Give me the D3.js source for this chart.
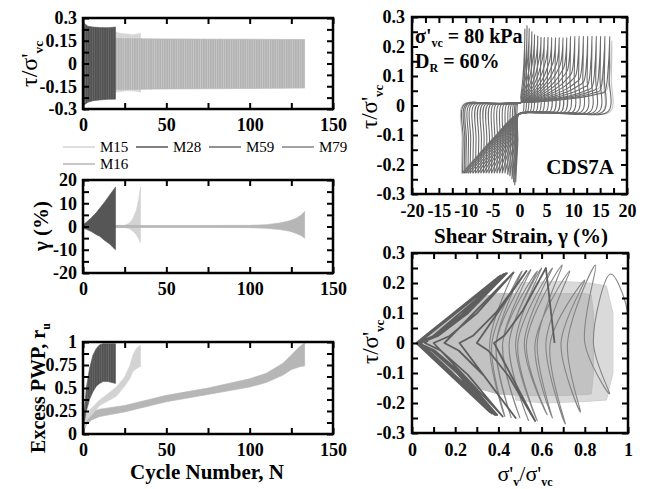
<!DOCTYPE html>
<html><head><meta charset="utf-8">
<script src="https://cdn.jsdelivr.net/npm/d3@7"></script>
<style>
body{margin:0;background:#fff;}
svg{display:block;}
</style></head><body>
<svg id="c" width="655" height="489"></svg>
<script>
// ================= DATA =================
const legendNames = ["M15","M28","M59","M79","M16"];

// Panel A: tau/sigma'vc envelope vs cycle number
const tauN_M15  = [0, 19, 22, 26, 30, 33, 34.5];
const tauUp_M15 = [0.22, 0.21, 0.2, 0.195, 0.19, 0.195, 0.2];
const tauLo_M15 = [-0.2, -0.19, -0.185, -0.18, -0.18, -0.185, -0.19];
const tauN_M16  = [0, 20, 50, 100, 133];
const tauUp_M16 = [0.168, 0.165, 0.162, 0.16, 0.158];
const tauLo_M16 = [-0.175, -0.172, -0.168, -0.165, -0.162];
const tauN_M28  = [0, 1, 3, 6, 10, 15, 19.5];
const tauUp_M28 = [0.27, 0.262, 0.245, 0.24, 0.237, 0.236, 0.24];
const tauLo_M28 = [-0.28, -0.27, -0.255, -0.245, -0.24, -0.236, -0.235];

// Panel B: shear strain envelope vs cycle number
const gamN_M15  = [0, 19, 25, 28, 30, 32, 33.5, 34.5];
const gamUp_M15 = [0.4, 0.3, 0.5, 1.5, 3.5, 7, 12, 17];
const gamLo_M15 = [-0.4, -0.3, -0.4, -1, -2, -3.5, -5.5, -7];
const gamN_M16  = [0, 50, 100, 110, 118, 124, 128, 131, 133];
const gamUp_M16 = [0.5, 0.4, 0.5, 0.8, 1.5, 2.5, 3.5, 5, 6.5];
const gamLo_M16 = [-0.5, -0.4, -0.5, -0.8, -1.3, -2, -3, -4, -5];
const gamN_M28  = [0, 2, 5, 8, 10, 13, 16, 18, 19.5];
const gamUp_M28 = [0.8, 1.8, 3.8, 6, 7.8, 10.5, 13.5, 15.5, 17];
const gamLo_M28 = [-0.8, -1.2, -2.2, -3.5, -4.2, -6, -7.5, -9, -10];

// Panel C: excess pore pressure ratio envelope vs cycle number
const ruN_M16  = [0, 2, 5, 10, 25, 50, 75, 100, 110, 120, 125, 130, 133];
const ruUp_M16 = [0.08, 0.2, 0.24, 0.27, 0.31, 0.42, 0.5, 0.6, 0.66, 0.77, 0.86, 0.95, 0.99];
const ruLo_M16 = [0, 0.1, 0.15, 0.19, 0.24, 0.35, 0.43, 0.51, 0.56, 0.64, 0.7, 0.73, 0.74];
const ruN_M15  = [0, 2, 5, 10, 15, 20, 25, 28, 30, 32, 34, 34.5];
const ruUp_M15 = [0.1, 0.22, 0.28, 0.37, 0.44, 0.51, 0.62, 0.74, 0.86, 0.93, 0.96, 0.96];
const ruLo_M15 = [0, 0.15, 0.2, 0.31, 0.36, 0.41, 0.52, 0.6, 0.68, 0.71, 0.73, 0.73];
const ruN_M28  = [0, 1, 2, 4, 6, 8, 10, 12, 15, 19.5];
const ruUp_M28 = [0.05, 0.3, 0.5, 0.72, 0.86, 0.93, 0.97, 0.98, 0.98, 0.98];
const ruLo_M28 = [0, 0.15, 0.25, 0.38, 0.46, 0.52, 0.55, 0.57, 0.57, 0.55];

// Panel D: stress-strain loop peaks (one entry per cycle)
const loopPosStrain = [1.0,1.4,1.8,2.3,2.8,3.4,4.0,4.6,5.3,6.0,6.7,7.4,8.1,8.8,9.5,10.3,11.1,11.9,12.7,13.5,14.3,15.1,15.9,16.8];
const loopNegStrain = [-0.7,-0.9,-1.1,-1.4,-1.8,-2.2,-2.7,-3.2,-3.7,-4.2,-4.7,-5.2,-5.7,-6.2,-6.7,-7.2,-7.7,-8.2,-8.7,-9.2,-9.6,-10.0,-10.3,-10.6];
const loopPosTau    = [0.26,0.27,0.26,0.25,0.24,0.235,0.23,0.23,0.23,0.23,0.23,0.23,0.23,0.23,0.235,0.235,0.235,0.235,0.235,0.235,0.235,0.235,0.235,0.235];
const loopNegTau    = [-0.26,-0.27,-0.26,-0.25,-0.24,-0.235,-0.23,-0.23,-0.23,-0.23,-0.23,-0.23,-0.23,-0.23,-0.23,-0.23,-0.23,-0.23,-0.23,-0.23,-0.23,-0.23,-0.23,-0.23];
const loopPosKnee   = [0.2,0.2,0.2,0.19,0.18,0.175,0.17,0.165,0.16,0.155,0.15,0.145,0.14,0.13,0.12,0.11,0.1,0.09,0.08,0.07,0.06,0.055,0.05,0.045];
const lightLoopPosStrain = [15.8, 17.2];
const lightLoopNegStrain = [-10.2, -10.8];
const lightLoopPosTau    = [0.19, 0.22];
const lightLoopNegTau    = [-0.22, -0.23];
const lightLoopPosKnee   = [0.06, 0.05];

// Panel E: stress paths
const bandM15Sig = [0.48,0.6,0.7,0.82,0.9,0.93,0.93,0.9,0.8,0.6,0.48];
const bandM15Tau = [0.2,0.203,0.205,0.2,0.19,0.1,-0.1,-0.19,-0.195,-0.2,-0.19];
const bandM16Sig = [0.05,0.12,0.2,0.3,0.4,0.5,0.6,0.7,0.8,0.83,0.84,0.84,0.83,0.8,0.7,0.6,0.5,0.4,0.3,0.2,0.12,0.05];
const bandM16Tau = [0.02,0.06,0.1,0.15,0.165,0.165,0.165,0.165,0.165,0.16,0.1,-0.1,-0.17,-0.172,-0.175,-0.175,-0.175,-0.17,-0.15,-0.1,-0.06,-0.02];
// half-cycle peaks of the medium stress path (alternating top / bottom) and the
// effective-stress ratio where each half-cycle crosses tau = 0
const pathM79PeakSig = [0.92,0.915,0.85,0.78,0.80,0.71,0.73,0.65,0.695,0.626,0.65,0.58,0.60,0.54,0.58,0.50,0.55,0.46,0.51,0.43,0.47];
const pathM79PeakTau = [0.23,-0.17,0.26,-0.23,0.21,-0.27,0.24,-0.25,0.26,-0.24,0.25,-0.26,0.25,-0.26,0.24,-0.25,0.245,-0.25,0.24,-0.245,0.235];
const pathM79ZeroSig = [0.84,0.80,0.72,0.69,0.64,0.62,0.57,0.58,0.53,0.52,0.49,0.48,0.45,0.45,0.42,0.42,0.39,0.39,0.37,0.36];
const bflyTopSig = [0.62,0.53,0.47,0.44,0.435,0.43,0.425,0.42,0.41,0.40];
const bflyTopTau = [0.25,0.24,0.235,0.233,0.233,0.23,0.23,0.228,0.225,0.22];
const bflyBotSig = [0.57,0.48,0.42,0.395,0.39,0.385,0.38,0.375,0.37,0.36];
const bflyBotTau = [-0.26,-0.25,-0.245,-0.24,-0.24,-0.24,-0.238,-0.235,-0.235,-0.23];
const bflyZeroAfterTop = [0.38,0.22,0.1,0.04,0.03,0.02,0.02,0.02,0.02,0.02];
const bflyZeroAfterBot = [0.3,0.15,0.06,0.03,0.02,0.02,0.02,0.02,0.02,0.02];
const bflyStartSig = 0.66;

// tick values / labels
const nTicks = [0,25,50,75,100,125,150], nLabels = [0,50,100,150];
const tauTicksA = [-0.3,-0.225,-0.15,-0.075,0,0.075,0.15,0.225,0.3], tauLabelsA = [-0.3,-0.15,0,0.15,0.3];
const gamTicks = [-20,-15,-10,-5,0,5,10,15,20], gamLabels = [-20,-10,0,10,20];
const ruTicks = [0,0.125,0.25,0.375,0.5,0.625,0.75,0.875,1], ruLabels = [0,0.25,0.5,0.75,1];
const strainTicks = [-20,-17.5,-15,-12.5,-10,-7.5,-5,-2.5,0,2.5,5,7.5,10,12.5,15,17.5,20], strainLabels = [-20,-15,-10,-5,0,5,10,15,20];
const tauTicksD = [-0.3,-0.25,-0.2,-0.15,-0.1,-0.05,0,0.05,0.1,0.15,0.2,0.25,0.3], tauLabelsD = [-0.3,-0.2,-0.1,0,0.1,0.2,0.3];
const sigTicks = [0,0.1,0.2,0.3,0.4,0.5,0.6,0.7,0.8,0.9,1], sigLabels = [0,0.2,0.4,0.6,0.8,1];

// ================= STYLE =================
const colors = {M15:"#d3d3d3", M28:"#565656", M59:"#6c6c6c", M79:"#858585", M16:"#b6b6b6"};
const FONT = '"Liberation Serif","Times New Roman",serif';
const svg = d3.select("#c");
const defs = svg.append("defs");
function stripes(id, base, line) {
  const p = defs.append("pattern").attr("id",id).attr("patternUnits","userSpaceOnUse")
    .attr("width",2.3).attr("height",10);
  p.append("rect").attr("width",2.3).attr("height",10).attr("fill",base);
  p.append("rect").attr("width",0.7).attr("height",10).attr("fill",line);
}
stripes("stM28","#525252","#6a6a6a");
stripes("stM16","#b3b3b3","#c9c9c9");
stripes("stM15","#d2d2d2","#e2e2e2");

function axes(g, x, y, xt, xl, yt, yl, padX, padY) {
  const [x0,x1] = x.range(), [y0,y1] = y.range();
  const isLab = (arr,v)=>arr.some(a=>Math.abs(a-v)<1e-9);
  const fmt = v => String(+v.toFixed(3));
  g.append("g").attr("transform",`translate(0,${y0})`)
   .call(d3.axisBottom(x).tickValues(xt).tickSize(-6).tickSizeOuter(0).tickPadding(padX).tickFormat(v=>isLab(xl,v)?fmt(v):""));
  g.append("g").attr("transform",`translate(0,${y1})`)
   .call(d3.axisTop(x).tickValues(xt).tickSize(-6).tickSizeOuter(0).tickFormat(""));
  g.append("g").attr("transform",`translate(${x0},0)`)
   .call(d3.axisLeft(y).tickValues(yt).tickSize(-6).tickSizeOuter(0).tickPadding(padY).tickFormat(v=>isLab(yl,v)?fmt(v):""));
  g.append("g").attr("transform",`translate(${x1},0)`)
   .call(d3.axisRight(y).tickValues(yt).tickSize(-6).tickSizeOuter(0).tickFormat(""));
  g.selectAll(".domain").remove();
  g.selectAll(".tick line").attr("stroke","#000").attr("stroke-width",2);
  g.selectAll(".tick text").attr("font-family",FONT).attr("font-weight","bold").attr("font-size",18).attr("fill","#000");
  g.append("rect").attr("x",x0).attr("y",y1).attr("width",x1-x0).attr("height",y0-y1)
   .attr("fill","none").attr("stroke","#000").attr("stroke-width",2.5);
}

function band(g, x, y, N, up, lo, color, fill) {
  const d = N.map((n,i)=>({n, u:up[i], l:lo[i]}));
  g.append("path").datum(d)
   .attr("d", d3.area().x(p=>x(p.n)).y0(p=>y(p.l)).y1(p=>y(p.u)))
   .attr("fill", fill || color).attr("stroke", color).attr("stroke-width",0.6);
}

function clip(id, x, y) {
  svg.append("clipPath").attr("id",id).append("rect")
    .attr("x",x.range()[0]).attr("y",y.range()[1])
    .attr("width",x.range()[1]-x.range()[0]).attr("height",y.range()[0]-y.range()[1]);
}

// ---------- Panel A ----------
const xA = d3.scaleLinear().domain([0,150]).range([83,333]);
const yA = d3.scaleLinear().domain([-0.3,0.3]).range([109,18]);
clip("cA", xA, yA);
const gA = svg.append("g");
const pA = gA.append("g").attr("clip-path","url(#cA)");
band(pA, xA, yA, tauN_M15, tauUp_M15, tauLo_M15, colors.M15, "url(#stM15)");
band(pA, xA, yA, tauN_M16, tauUp_M16, tauLo_M16, colors.M16, "url(#stM16)");
band(pA, xA, yA, tauN_M28, tauUp_M28, tauLo_M28, colors.M28, "url(#stM28)");
axes(gA, xA, yA, nTicks, nLabels, tauTicksA, tauLabelsA, 9, 6);

// ---------- Panel B ----------
const xB = d3.scaleLinear().domain([0,150]).range([83,333]);
const yB = d3.scaleLinear().domain([-20,20]).range([273,180]);
clip("cB", xB, yB);
const gB = svg.append("g");
const pB = gB.append("g").attr("clip-path","url(#cB)");
band(pB, xB, yB, gamN_M15, gamUp_M15, gamLo_M15, colors.M15);
band(pB, xB, yB, gamN_M16, gamUp_M16, gamLo_M16, colors.M16);
band(pB, xB, yB, gamN_M28, gamUp_M28, gamLo_M28, colors.M28);
axes(gB, xB, yB, nTicks, nLabels, gamTicks, gamLabels, 9, 6);

// ---------- Panel C ----------
const xC = d3.scaleLinear().domain([0,150]).range([83,333]);
const yC = d3.scaleLinear().domain([0,1]).range([434,342]);
clip("cC", xC, yC);
const gC = svg.append("g");
const pC = gC.append("g").attr("clip-path","url(#cC)");
band(pC, xC, yC, ruN_M16, ruUp_M16, ruLo_M16, colors.M16);
band(pC, xC, yC, ruN_M15, ruUp_M15, ruLo_M15, colors.M15);
band(pC, xC, yC, ruN_M28, ruUp_M28, ruLo_M28, colors.M28, "url(#stM28)");
axes(gC, xC, yC, nTicks, nLabels, ruTicks, ruLabels, 9, 6);

// ---------- Panel D ----------
const xD = d3.scaleLinear().domain([-20,20]).range([412,627]);
const yD = d3.scaleLinear().domain([-0.3,0.3]).range([194,17]);
clip("cD", xD, yD);
const gD = svg.append("g");
const pD = gD.append("g").attr("clip-path","url(#cD)");
const rise = [0.1,0.3,0.6,0.85,1.0];
const riseAt = [0.25,0.5,0.75,0.88,0.94];
function loopPts(p, n, tp, tn, kp) {
  const pts = [[n,tn],[n+0.12,tn*0.5],[n+0.3,0.003],[n*0.5,0.006],[Math.min(0.3,p*0.3),0.01]];
  riseAt.forEach((f,i)=>pts.push([p*f, 0.01+(kp-0.01)*rise[i]]));
  pts.push([p*0.985,(kp+tp)/2],[p,tp],[p-0.12,tp*0.4],[p-0.3,-0.02],[p*0.5,-0.024],[Math.max(-0.2,n*0.3),-0.03]);
  [0.45,0.8,0.93].forEach((f,i)=>pts.push([n*f, -0.03+(tn+0.03)*[0.4,0.78,0.92][i]]));
  pts.push([n,tn]);
  return pts;
}
const lineD = d3.line().x(p=>xD(p[0])).y(p=>yD(p[1])).curve(d3.curveCatmullRom.alpha(0.5));
lightLoopPosStrain.forEach((p,i)=>{
  pD.append("path").attr("d", lineD(loopPts(p, lightLoopNegStrain[i], lightLoopPosTau[i], lightLoopNegTau[i], lightLoopPosKnee[i])))
    .attr("fill","none").attr("stroke","#c4c4c4").attr("stroke-width",1.1);
});
loopPosStrain.forEach((p,i)=>{
  pD.append("path").attr("d", lineD(loopPts(p, loopNegStrain[i], loopPosTau[i], loopNegTau[i], loopPosKnee[i])))
    .attr("fill","none").attr("stroke",colors.M59).attr("stroke-width",1.1);
});
axes(gD, xD, yD, strainTicks, strainLabels, tauTicksD, tauLabelsD, 10, 7);

// ---------- Panel E ----------
const xE = d3.scaleLinear().domain([0,1]).range([412,628]);
const yE = d3.scaleLinear().domain([-0.3,0.3]).range([433,253]);
clip("cE", xE, yE);
const gE = svg.append("g");
const pE = gE.append("g").attr("clip-path","url(#cE)");
const polyE = d3.line().x(p=>xE(p[0])).y(p=>yE(p[1]));
pE.append("path").attr("d", polyE(bandM15Sig.map((s,i)=>[s,bandM15Tau[i]]))+"Z").attr("fill","#dadada").attr("stroke","#d0d0d0");
pE.append("path").attr("d", polyE(bandM16Sig.map((s,i)=>[s,bandM16Tau[i]]))+"Z").attr("fill","#c2c2c2").attr("stroke","#bdbdbd");
// medium stress path: start at (1,0), then peak -> zero crossing -> peak ...
const m79 = [[1.0,0.0],[0.99,0.13]];
pathM79PeakSig.forEach((s,i)=>{
  m79.push([s, pathM79PeakTau[i]]);
  if (i < pathM79ZeroSig.length) m79.push([pathM79ZeroSig[i], 0]);
});
pE.append("path").attr("d", d3.line().x(p=>xE(p[0])).y(p=>yE(p[1])).curve(d3.curveCatmullRom.alpha(0.5))(m79))
  .attr("fill","none").attr("stroke",colors.M79).attr("stroke-width",1.1);
// butterfly
const unloadFrac = [[0.55,0.43],[0.2,0.1]];
const bfly = [[bflyStartSig,0]];
bflyTopSig.forEach((t,i)=>{
  const zt = bflyZeroAfterTop[i], zb = bflyZeroAfterBot[i];
  bfly.push([t, bflyTopTau[i]]);
  unloadFrac.forEach(f=>bfly.push([zt+(t-zt)*f[0], bflyTopTau[i]*f[1]]));
  bfly.push([zt,0]);
  const b = bflyBotSig[i];
  bfly.push([b, bflyBotTau[i]]);
  unloadFrac.forEach(f=>bfly.push([zb+(b-zb)*f[0], bflyBotTau[i]*f[1]]));
  bfly.push([zb,0]);
});
pE.append("path").attr("d", polyE.curve(d3.curveLinear)(bfly))
  .attr("fill","none").attr("stroke","#5e5e5e").attr("stroke-width",1.8).attr("stroke-linejoin","round");
axes(gE, xE, yE, sigTicks, sigLabels, tauTicksD, tauLabelsD, 10, 7);

// ---------- Legend ----------
const lg = svg.append("g").attr("font-family",FONT).attr("font-size",15);
legendNames.forEach((nm,i)=>{
  const row = i<4 ? 0 : 1, col = i<4 ? i : 0;
  const lx = 63 + col*73, ly = row===0 ? 147 : 164;
  lg.append("line").attr("x1",lx).attr("x2",lx+32).attr("y1",ly).attr("y2",ly)
    .attr("stroke",colors[nm]).attr("stroke-width",1.5);
  lg.append("text").attr("x",lx+37).attr("y",ly+5).text(nm);
});

// ---------- Titles ----------
function tauTitle(x, y, size) {
  const t = svg.append("text").attr("transform",`translate(${x},${y}) rotate(-90)`)
    .attr("text-anchor","middle").attr("font-family",FONT).attr("font-size",size);
  t.append("tspan").text("τ/σ'");
  t.append("tspan").attr("font-size",size*0.55).attr("font-weight","bold").attr("dy",size*0.25).text("vc");
}
tauTitle(37, 64, 24);
tauTitle(377, 107, 23);
tauTitle(378, 342, 23);

svg.append("text").attr("transform","translate(48,226) rotate(-90)").attr("text-anchor","middle")
  .attr("font-family",FONT).attr("font-weight","bold").attr("font-size",21).text("γ (%)");
const ru = svg.append("text").attr("transform","translate(45,388) rotate(-90)").attr("text-anchor","middle")
  .attr("font-family",FONT).attr("font-weight","bold").attr("font-size",20);
ru.append("tspan").text("Excess PWP, r");
ru.append("tspan").attr("font-size",12).attr("dy",5).text("u");

svg.append("text").attr("x",207).attr("y",479).attr("text-anchor","middle")
  .attr("font-family",FONT).attr("font-weight","bold").attr("font-size",21).text("Cycle Number, N");
svg.append("text").attr("x",521).attr("y",243).attr("text-anchor","middle")
  .attr("font-family",FONT).attr("font-weight","bold").attr("font-size",21).text("Shear Strain, γ (%)");
const sx = svg.append("text").attr("x",525).attr("y",481).attr("text-anchor","middle")
  .attr("font-family",FONT).attr("font-size",22);
sx.append("tspan").text("σ'");
sx.append("tspan").attr("font-size",12).attr("font-weight","bold").attr("dy",5).text("v");
sx.append("tspan").attr("dy",-5).text("/σ'");
sx.append("tspan").attr("font-size",12).attr("font-weight","bold").attr("dy",5).text("vc");

// ---------- Annotations ----------
const a1 = svg.append("text").attr("x",415).attr("y",43).attr("font-family",FONT).attr("font-weight","bold").attr("font-size",20);
a1.append("tspan").text("σ'");
a1.append("tspan").attr("font-size",12).attr("dy",4).text("vc");
a1.append("tspan").attr("dy",-4).text(" = 80 kPa");
const a2 = svg.append("text").attr("x",415).attr("y",68).attr("font-family",FONT).attr("font-weight","bold").attr("font-size",20);
a2.append("tspan").text("D");
a2.append("tspan").attr("font-size",12).attr("dy",4).text("R");
a2.append("tspan").attr("dy",-4).text(" = 60%");
svg.append("text").attr("x",614).attr("y",174).attr("text-anchor","end").attr("font-family",FONT)
  .attr("font-weight","bold").attr("font-size",21).text("CDS7A");
</script>
</body></html>
